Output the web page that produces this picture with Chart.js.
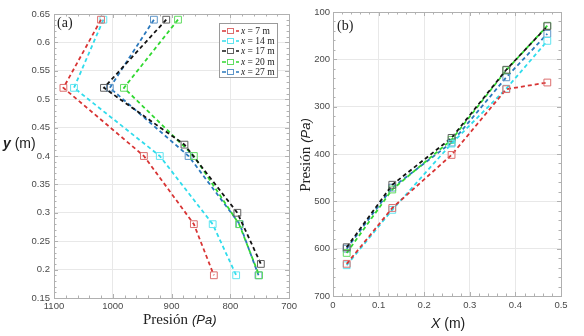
<!DOCTYPE html>
<html>
<head>
<meta charset="utf-8">
<script src="https://cdn.jsdelivr.net/npm/chart.js@4.4.1/dist/chart.umd.min.js"></script>
<style>
  html, body { margin: 0; padding: 0; background: #fff; }
  #page { position: relative; width: 584px; height: 336px; overflow: hidden; }
  .panel { position: absolute; top: 0; height: 336px; }
  .txt { position: absolute; white-space: nowrap; color: #222; line-height: 1; }
  .serif { font-family: "Liberation Serif", "DejaVu Serif", serif; }
  .sans { font-family: "Liberation Sans", Arial, sans-serif; }
  #legend { position: absolute; left: 219px; top: 23px; width: 59px; height: 55px;
            border: 1px solid #9a9a9a; background: #fff; padding-top: 2px; box-sizing: border-box; }
  #legend .row { height: 10.2px; display: flex; align-items: center;
                 font-family: "Liberation Serif", serif; font-size: 9.5px; color: #222; }
  #legend svg { margin: 0 2px 0 2px; }
</style>
</head>
<body>
<div id="page">
  <div class="panel" style="left:0;width:300px;"><canvas id="chartA"></canvas></div>
  <div class="panel" style="left:290px;width:294px;"><canvas id="chartB"></canvas></div>

  <div class="txt serif" style="left:57px;top:16px;font-size:14px;">(a)</div>
  <div class="txt serif" style="left:337px;top:19px;font-size:14px;">(b)</div>

  <div class="txt" style="left:3px;top:136px;font-size:14px;">
    <span class="sans" style="font-style:italic;font-weight:bold;">y</span><span class="sans"> (m)</span>
  </div>
  <div class="txt" style="left:143px;top:311px;">
    <span class="serif" style="font-size:15px;">Presión</span>
    <span class="sans" style="font-size:13px;font-style:italic;">(Pa)</span>
  </div>
  <div class="txt" style="left:305px;top:155px;transform:translate(-50%,-50%) rotate(-90deg);">
    <span class="serif" style="font-size:15px;">Presión</span>
    <span class="sans" style="font-size:13px;font-style:italic;">(Pa)</span>
  </div>
  <div class="txt sans" style="left:431px;top:316px;font-size:14px;">
    <span style="font-style:italic;">X</span> (m)
  </div>

  <div id="legend"></div>
</div>

<script>
// distances of each measuring station (legend)
const distances = [7, 14, 17, 20, 27];
const colors = ['#d83434', '#30dcec', '#141414', '#30d830', '#2a78bc'];
const markerColors = ['#dc6e6e', '#60e4f0', '#606060', '#62dc62', '#5f96c8'];

// panel (a): height y (m) vs pressure (Pa)
const heights = [0.64, 0.52, 0.40, 0.28, 0.19];
const heights17 = [0.64, 0.52, 0.42, 0.30, 0.21];
const presA7 = [1020, 1084, 947, 862, 828];
const presA14 = [1016, 1066, 920, 830, 790];
const presA17 = [909, 1015, 878, 788, 748];
const presA20 = [889, 981, 862, 785, 751];
const presA27 = [930, 1005, 871, 784, 752];

// panel (b): pressure (Pa) vs X (m)
const stations = [0.03, 0.13, 0.26, 0.38, 0.47];
const presB7 = [632, 514, 402, 263, 249];
const presB14 = [635, 518, 378, 262, 161];
const presB17 = [597, 465, 366, 222, 130];
const presB20 = [609, 475, 370, 223, 129];
const presB27 = [600, 471, 376, 238, 146];

const xTicksA = [1100, 1000, 900, 800, 700];
const yTicksA = [0.15, 0.2, 0.25, 0.3, 0.35, 0.4, 0.45, 0.5, 0.55, 0.6, 0.65];
const xTicksB = [0, 0.1, 0.2, 0.3, 0.4, 0.5];
const yTicksB = [100, 200, 300, 400, 500, 600, 700];

const tickFont = { family: '"Liberation Sans", Arial, sans-serif', size: 9.5 };
const tickColor = '#4a4a4a';
const gridColor = '#e8e8e8';
const boxColor = '#b0b0b0';

function makeSet(i, xs, ys) {
  return {
    label: 'x = ' + distances[i] + ' m',
    data: xs.map((x, k) => ({ x: x, y: ys[k] })),
    showLine: true,
    borderColor: colors[i],
    borderWidth: 1.8,
    borderDash: [4, 3],
    pointStyle: 'rect',
    pointRadius: 4.8,
    pointBorderWidth: 1,
    pointBorderColor: markerColors[i],
    pointBackgroundColor: 'rgba(0,0,0,0)',
    fill: false
  };
}

// frame with ticks on all four sides, MATLAB style
const frameTicks = {
  id: 'frameTicks',
  afterDraw(chart, args, opts) {
    const { ctx, chartArea: a, scales } = chart;
    ctx.save();
    ctx.strokeStyle = boxColor;
    ctx.lineWidth = 1;
    ctx.strokeRect(Math.round(a.left) + 0.5, Math.round(a.top) + 0.5,
                   Math.round(a.right - a.left), Math.round(a.bottom - a.top));
    const draw = (scale, step, major, horiz) => {
      const lo = Math.min(scale.min, scale.max), hi = Math.max(scale.min, scale.max);
      const n = Math.round((hi - lo) / step);
      for (let k = 0; k <= n; k++) {
        const v = lo + k * step;
        const isMajor = Math.abs(v / major - Math.round(v / major)) < 1e-6;
        const len = isMajor ? 4 : 2.5;
        const p = Math.round(scale.getPixelForValue(v)) + 0.5;
        ctx.beginPath();
        if (horiz) {
          ctx.moveTo(p, a.bottom); ctx.lineTo(p, a.bottom - len);
          ctx.moveTo(p, a.top); ctx.lineTo(p, a.top + len);
        } else {
          ctx.moveTo(a.left, p); ctx.lineTo(a.left + len, p);
          ctx.moveTo(a.right, p); ctx.lineTo(a.right - len, p);
        }
        ctx.stroke();
      }
    };
    draw(scales.x, opts.xMinor, opts.xMajor, true);
    draw(scales.y, opts.yMinor, opts.yMajor, false);
    ctx.restore();
  }
};

function axis(min, max, ticks, reverse, fit, pad) {
  return {
    type: 'linear',
    min: min, max: max, reverse: reverse,
    afterBuildTicks: s => { s.ticks = ticks.map(v => ({ value: v })); },
    afterFit: fit,
    grid: { color: gridColor, drawTicks: false },
    border: { display: false },
    ticks: {
      font: tickFont, color: tickColor, padding: pad,
      callback: v => String(+(+v).toFixed(2))
    }
  };
}

function baseOptions(padding, scales, tickOpts) {
  return {
    responsive: true,
    maintainAspectRatio: false,
    animation: false,
    layout: { padding: padding },
    scales: scales,
    plugins: {
      legend: { display: false },
      tooltip: { enabled: false },
      frameTicks: tickOpts
    }
  };
}

new Chart(document.getElementById('chartA'), {
  type: 'scatter',
  data: {
    datasets: [
      makeSet(0, presA7, heights),
      makeSet(1, presA14, heights),
      makeSet(2, presA17, heights17),
      makeSet(3, presA20, heights),
      makeSet(4, presA27, heights)
    ]
  },
  options: baseOptions(
    { left: 0, top: 14, right: 10, bottom: 0 },
    {
      x: axis(700, 1100, xTicksA, true, s => { s.height = 38; }, 3),
      y: axis(0.15, 0.65, yTicksA, false, s => { s.width = 54; }, 4)
    },
    { xMinor: 20, xMajor: 100, yMinor: 0.01, yMajor: 0.05 }
  ),
  plugins: [frameTicks]
});

new Chart(document.getElementById('chartB'), {
  type: 'scatter',
  data: {
    datasets: [
      makeSet(0, stations, presB7),
      makeSet(1, stations, presB14),
      makeSet(2, stations, presB17),
      makeSet(3, stations, presB20),
      makeSet(4, stations, presB27)
    ]
  },
  options: baseOptions(
    { left: 0, top: 12, right: 23, bottom: 0 },
    {
      x: axis(0, 0.5, xTicksB, false, s => { s.height = 40; }, 4),
      y: axis(100, 700, yTicksB, true, s => { s.width = 43; }, 3)
    },
    { xMinor: 0.02, xMajor: 0.1, yMinor: 20, yMajor: 100 }
  ),
  plugins: [frameTicks]
});

// legend for panel (a)
const legend = document.getElementById('legend');
distances.forEach((d, i) => {
  const row = document.createElement('div');
  row.className = 'row';
  row.innerHTML =
    '<svg width="17" height="8"><line x1="0" y1="4" x2="17" y2="4" stroke="' + colors[i] +
    '" stroke-width="1.6" stroke-dasharray="4,3"/><rect x="5.5" y="1.5" width="6" height="5" fill="#fff" stroke="' +
    markerColors[i] + '" stroke-width="1"/></svg>' +
    '<span><i>x</i> = ' + d + ' m</span>';
  legend.appendChild(row);
});
</script>
</body>
</html>
